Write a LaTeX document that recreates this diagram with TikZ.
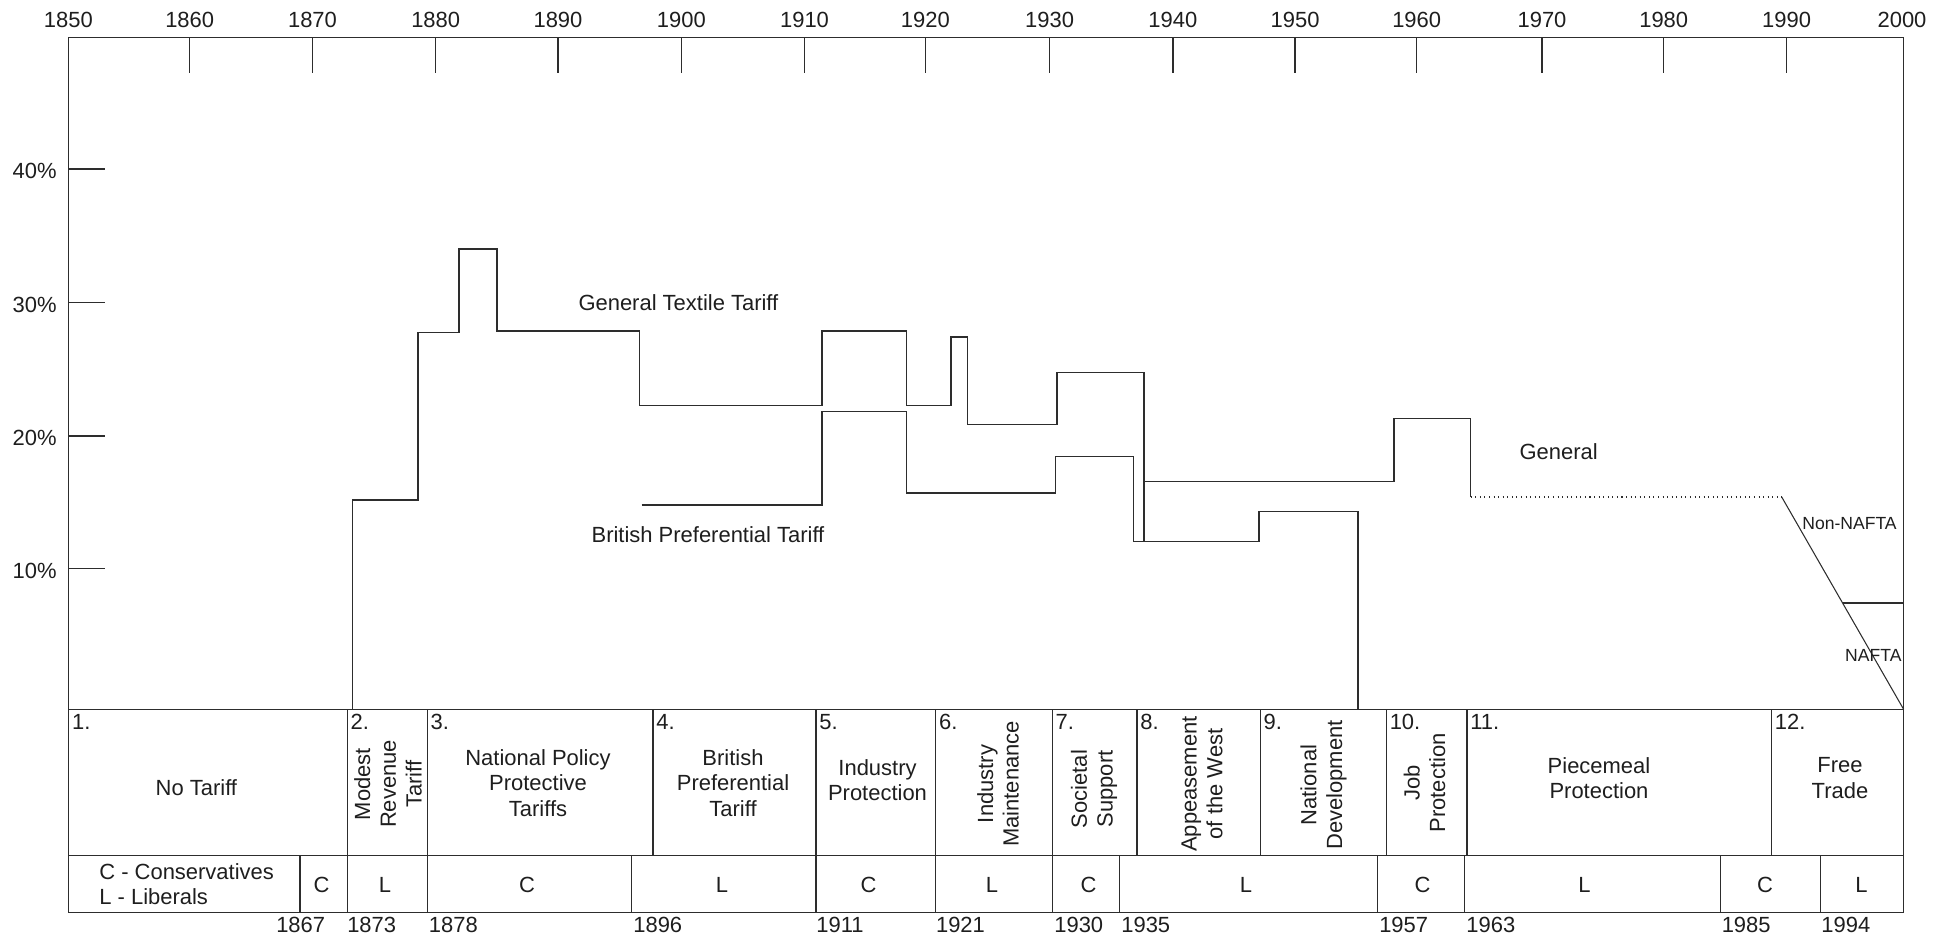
\documentclass[tikz,border=0pt]{standalone}
\usepackage{fontspec}
\setmainfont{Liberation Sans}
\definecolor{linec}{RGB}{45,45,45}
\definecolor{textc}{RGB}{30,30,30}
\begin{document}
\begin{tikzpicture}[x=0.02cm,y=-0.02cm,
  frame/.style={draw=linec, line width=0.9pt},
  ln/.style={draw=linec, line width=0.8pt},
  txt/.style={font=\fontsize{12.5}{14.6}\selectfont, text=textc, inner sep=0pt, align=center},
  small/.style={font=\fontsize{10}{12}\selectfont, text=textc, inner sep=0pt},
  num/.style={txt, anchor=north west},
  vtxt/.style={txt, rotate=90},
]
\useasboundingbox (0,0) rectangle (1951,939);
% frame and table
\draw[frame] (68.7,37.3) rectangle (1903.6,912.3);
\draw[frame] (68.7,709.3) -- (1903.6,709.3);
\draw[frame] (68.7,855.7) -- (1903.6,855.7);
\foreach \x in {347.3,427.2,653.1,816.1,935.7,1052.2,1137,1260.3,1386.4,1466.9,1771.6}
  \draw[ln] (\x,709.3) -- (\x,855.7);
\foreach \x in {300,347.3,427.2,631.7,816.1,935.7,1052.2,1119.6,1377.6,1464.4,1720.2,1820.2}
  \draw[ln] (\x,855.7) -- (\x,912.3);
% top ticks
\foreach \x in {189.7,312.5,435.7,558,681.3,804.5,925.4,1049.6,1172.8,1295.1,1416.7,1542,1663.7,1786.6}
  \draw[ln] (\x,37.3) -- (\x,72.7);
\foreach \x/\t in {68.3/1850,189.7/1860,312.5/1870,435.7/1880,558/1890,681.3/1900,804.5/1910,925.4/1920,1049.6/1930,1172.8/1940,1295.1/1950,1416.7/1960,1542/1970,1663.7/1980,1786.6/1990,1902/2000}
  \node[txt] (yr\t) at (\x,20) {\t};
% y ticks
\foreach \y/\t in {169/40,302.5/30,436/20,568.6/10}{
  \draw[ln] (68.7,\y) -- (104.9,\y);
  \node[txt, anchor=east] (pc\t) at (57,\y+2) {\t\%};
}
% General textile tariff line
\draw[ln] (352.7,709.3) -- (352.7,500) -- (417.9,500) -- (417.9,332.3) -- (458.9,332.3) -- (458.9,249)
  -- (496.9,249) -- (496.9,331) -- (639.7,331) -- (639.7,405.7) -- (821.9,405.7) -- (821.9,331)
  -- (906.7,331) -- (906.7,405.7) -- (950.9,405.7) -- (950.9,337) -- (967.4,337) -- (967.4,424.3)
  -- (1057,424.3) -- (1057,372.3) -- (1144,372.3) -- (1144,541.7);
\draw[ln] (1144,481.7) -- (1394,481.7) -- (1394,418.7) -- (1470.7,418.7) -- (1470.7,497);
\draw[draw=linec, line width=0.6pt, dotted] (1470.7,497) -- (1781.7,497);
\draw[draw=linec, line width=0.6pt] (1781.7,497) -- (1903.6,709.3);
\draw[draw=linec, line width=0.6pt] (1843.3,603) -- (1903.6,603);
% British preferential line
\draw[ln] (641.5,505) -- (821.9,505) -- (821.9,411.3) -- (906.7,411.3) -- (906.7,493) -- (1055.7,493)
  -- (1055.7,456.7) -- (1133.3,456.7) -- (1133.3,541.7) -- (1258.9,541.7) -- (1258.9,511.3)
  -- (1358,511.3) -- (1358,709.3);
% chart labels
\node[txt] (gtt) at (678.4,303) {General Textile Tariff};
\node[txt] (bpt) at (708,535) {British Preferential Tariff};
\node[txt] (gen) at (1558.7,452) {General};
\node[small] (nonnafta) at (1849.5,523.7) {Non-NAFTA};
\node[small] (nafta) at (1873.3,655) {NAFTA};
% period numbers
\foreach \x/\t [count=\i] in {68.7/1.,347.3/2.,427.2/3.,653.1/4.,816.1/5.,935.7/6.,1052.2/7.,1137/8.,1260.3/9.,1386.4/10.,1466.9/11.,1771.6/12.}
  \node[num] (pn\i) at (\x+3,714) {\t};
% period names
\node[txt] (c1) at (196.4,788) {No Tariff};
\node[vtxt] (c2) at (388,784) {Modest\\Revenue\\Tariff};
\node[txt] (c3) at (538,783) {National Policy\\Protective\\Tariffs};
\node[txt] (c4) at (733,783) {British\\Preferential\\Tariff};
\node[txt] (c5) at (877.5,780) {Industry\\Protection};
\node[vtxt] (c6) at (998,784) {Industry\\Maintenance};
\node[vtxt] (c7) at (1094,789) {Societal\\Support};
\node[vtxt] (c8) at (1202,784) {Appeasement\\of the West};
\node[vtxt] (c9) at (1323.5,785) {National\\Development};
\node[vtxt] (c10) at (1424.5,783) {Job\\Protection};
\node[txt] (c11) at (1599,778) {Piecemeal\\Protection};
\node[txt] (c12) at (1840,778) {Free\\Trade};
% parties
\node[txt, align=left, anchor=west] (legend) at (99,884) {C - Conservatives\\L - Liberals};
\foreach \x/\t [count=\i] in {321.5/C,385/L,527/C,722/L,868.5/C,992/L,1088.5/C,1246/L,1422.5/C,1584.5/L,1765/C,1861.5/L}
  \node[txt] (pt\i) at (\x,885) {\t};
% years below
\node[txt] (b1867) at (300.7,925) {1867};
\foreach \x/\t in {346.9/1873,428.6/1878,633/1896,816/1911,935.7/1921,1054/1930,1121/1935,1378.9/1957,1466/1963,1721.4/1985,1821/1994}
  \node[txt, anchor=west] (b\t) at (\x,925) {\t};
\end{tikzpicture}
\end{document}
